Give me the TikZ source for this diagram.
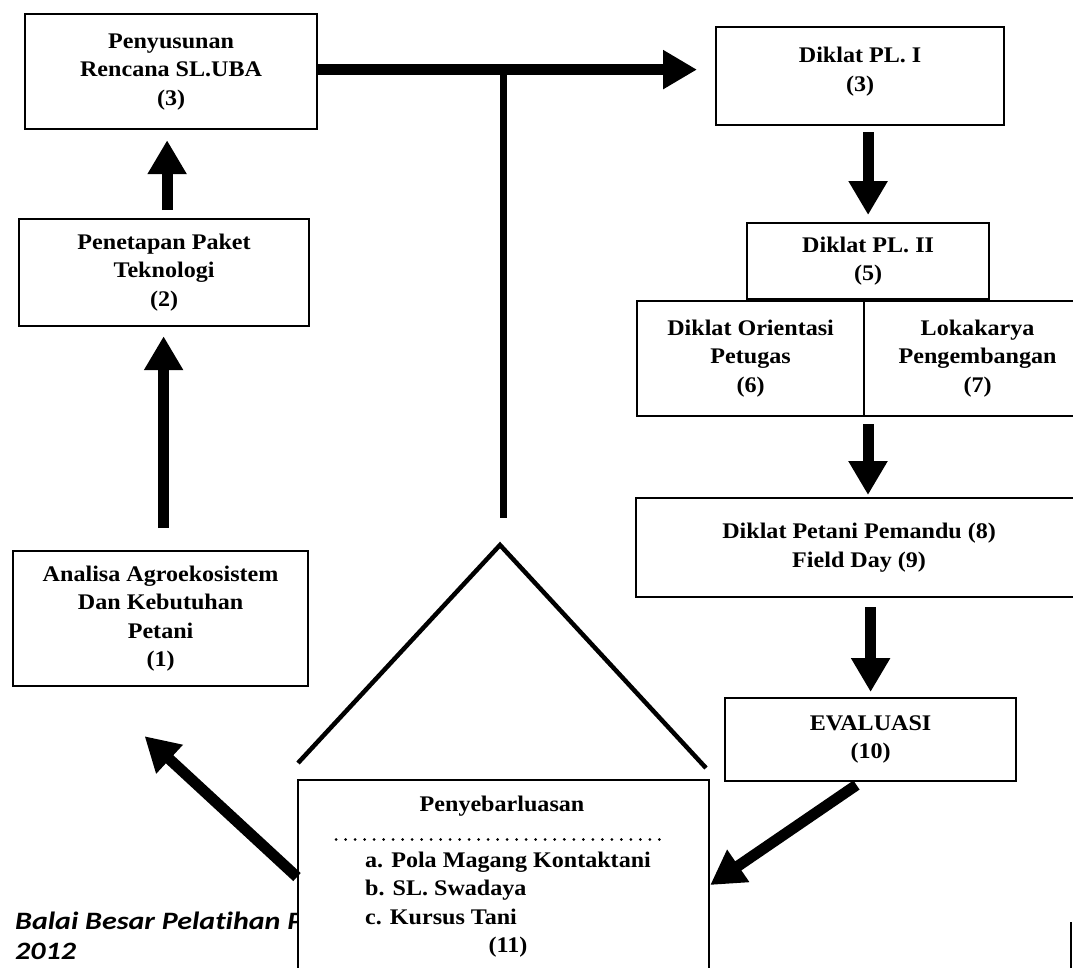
\documentclass[tikz,border=0pt]{standalone}
\usepackage{fontspec}
\usetikzlibrary{arrows.meta}
\newfontfamily\kotakfont{Liberation Serif}[FakeStretch=1.08]
\newfontfamily\catatanfont{Carlito}[FakeStretch=1.2, Ligatures=NoCommon]

\begin{document}
\begin{tikzpicture}[x=1pt, y=-1pt,
		kotak/.style={draw, line width=2.2pt, fill=white, rectangle, inner sep=0pt, anchor=north west, align=center, font=\kotakfont\bfseries\fontsize{22.3}{28.5}\selectfont},
		panah/.style={line width=11pt, -{Triangle[width=37pt,length=34pt]}},
		garis/.style={line width=4.5pt}]
		\useasboundingbox (0,0) rectangle (1073,967);
		\clip (0,0) rectangle (1073,967);
		% catatan sumber di pojok kiri bawah
		\node[anchor=base west, inner sep=0pt, font=\catatanfont\bfseries\itshape\fontsize{25}{30}\selectfont] (sumber) at (15,929) {\begin{tabular}[t]{@{}l@{}}Balai Besar Pelatihan P\\2012\end{tabular}};
		% kotak kiri
		\node[kotak, minimum width=292pt, minimum height=115pt] (rencana) at (24,13) {Penyusunan\\Rencana SL.UBA\\(3)};
		\node[kotak, minimum width=290pt, minimum height=107pt] (teknologi) at (18,218) {Penetapan Paket\\Teknologi\\(2)};
		\node[kotak, minimum width=295pt, minimum height=135pt] (analisa) at (12,550) {Analisa Agroekosistem\\Dan Kebutuhan\\Petani\\(1)};
		% kotak kanan
		\node[kotak, minimum width=288pt, minimum height=98pt, text depth=14pt] (pl1) at (715,26) {Diklat PL. I\\(3)};
		\node[kotak, minimum width=242pt, minimum height=76pt] (pl2) at (746,222) {Diklat PL. II\\(5)};
		\node[kotak, minimum width=227pt, minimum height=115pt] (orientasi) at (636,300) {Diklat Orientasi\\Petugas\\(6)};
		\node[kotak, minimum width=227pt, minimum height=115pt] (lokakarya) at (863,300) {Lokakarya\\Pengembangan\\(7)};
		\node[kotak, minimum width=446pt, minimum height=99pt] (pemandu) at (635,497) {Diklat Petani Pemandu (8)\\Field Day (9)};
		\node[kotak, minimum width=291pt, minimum height=83pt] (evaluasi) at (724,697) {EVALUASI\\(10)};
		% kotak penyebarluasan
		\node[kotak, minimum width=411pt, minimum height=230pt] (penyebaran) at (297,779) {};
		\node[anchor=base, inner sep=0pt, font=\kotakfont\bfseries\fontsize{22.3}{28.5}\selectfont] (judul) at (502,811) {Penyebarluasan};
		\draw[line width=3pt, line cap=round, dash pattern=on 0.01pt off 9.5pt] (336,839) -- (668,839);
		\node[anchor=base west, inner sep=0pt, font=\kotakfont\bfseries\fontsize{22.3}{28.5}\selectfont] (daftar) at (365,867) {\begin{tabular}[t]{@{}l@{}}a. Pola Magang Kontaktani\\b. SL. Swadaya\\c. Kursus Tani\\\multicolumn{1}{@{}c@{}}{(11)}\end{tabular}};
		\draw[line width=2.2pt] (1071,922) -- (1071,980);
		% cabang dan atap
		\coordinate (cabang) at (503,68);
		\coordinate (cabangbawah) at (503,518);
		\coordinate (puncak) at (500,545);
		\coordinate (kakikiri) at (298,763);
		\coordinate (kakikanan) at (706,768);
		\draw[line width=7pt] (cabang) -- (cabangbawah);
		\draw[garis] (kakikiri) -- (puncak) -- (kakikanan);
		% panah
		\draw[panah, shorten >=18pt] ([yshift=2pt]rencana.east) -- ([yshift=2pt]rencana.east -| pl1.west);
		\draw[panah, shorten <=8pt, shorten >=10pt] ([xshift=3pt]teknologi.north) -- ([xshift=3pt]teknologi.north |- rencana.south);
		\draw[panah, shorten <=22pt, shorten >=9pt] ([xshift=3pt]analisa.north) -- ([xshift=3pt]analisa.north |- teknologi.south);
		\draw[panah, shorten <=6pt, shorten >=7pt] (pl1.south -| pl2.north) -- (pl2.north);
		\draw[panah, shorten <=7pt, shorten >=2pt] ([xshift=5pt]lokakarya.south west) -- ([xshift=5pt]lokakarya.south west |- pemandu.north);
		\draw[panah, shorten <=9pt, shorten >=5pt] (pemandu.south -| evaluasi.north) -- (evaluasi.north);
		\draw[panah, shorten <=5pt] ([xshift=-10pt]evaluasi.south) -- ([yshift=-106pt]penyebaran.north east);
		\draw[panah] ([yshift=-98pt]penyebaran.north west) -- ([xshift=-16pt, yshift=-49pt]analisa.south);
	\end{tikzpicture}
\end{document}
